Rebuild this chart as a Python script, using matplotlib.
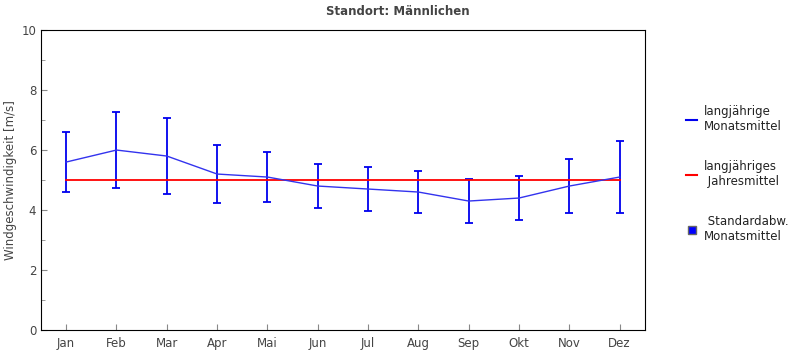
import numpy as np
import matplotlib.pyplot as plt
from matplotlib.lines import Line2D

months = ['Jan', 'Feb', 'Mar', 'Apr', 'Mai', 'Jun', 'Jul', 'Aug', 'Sep', 'Okt', 'Nov', 'Dez']
monatsmittel = [5.6, 6.0, 5.8, 5.2, 5.1, 4.8, 4.7, 4.6, 4.3, 4.4, 4.8, 5.1]
standardabw = [1.0, 1.27, 1.27, 0.97, 0.83, 0.73, 0.73, 0.7, 0.73, 0.73, 0.9, 1.2]
jahresmittel = 5.0

grey = '#444444'
plt.rcParams['font.family'] = 'DejaVu Sans'
plt.rcParams['font.size'] = 8.5

fig = plt.figure(figsize=(7.95, 3.5), dpi=100)
ax = fig.add_axes([0.0516, 0.0571, 0.7595, 0.857])

x = np.arange(len(months))
ax.errorbar(x, monatsmittel, yerr=standardabw, fmt='none', ecolor='#0000ee',
            elinewidth=1.3, capsize=3, capthick=1.3, zorder=2)
ax.plot(x, monatsmittel, color='#3333ee', lw=1.0, zorder=3)
ax.plot([x[0], x[-1]], [jahresmittel, jahresmittel], color='red', lw=1.3, zorder=2)

ax.set_xlim(-0.5, 11.5)
ax.set_ylim(0, 10)
ax.set_xticks(x)
ax.set_xticklabels(months)
ax.set_yticks(range(0, 11, 2))
ax.set_yticks(range(1, 10, 2), minor=True)
ax.tick_params(axis='both', which='both', direction='in', colors='#888888',
               labelcolor=grey, labelsize=8.5)
ax.tick_params(axis='x', length=4, pad=5)
ax.tick_params(axis='y', which='major', length=4)
ax.tick_params(axis='y', which='minor', length=3)
ax.set_ylabel('Windgeschwindigkeit [m/s]', color=grey, labelpad=3)

fig.suptitle('Standort: Männlichen', x=0.5, y=0.985, fontsize=8.5,
             fontweight='bold', color=grey)

handles = [
    Line2D([], [], color='#0000ee', lw=1.5),
    Line2D([], [], color='red', lw=1.5),
    Line2D([], [], color='none', marker='s', markersize=6,
           markerfacecolor='#0000ff', markeredgecolor='#666666'),
]
labels = ['langjährige\nMonatsmittel', 'langjähriges\n Jahresmittel',
          ' Standardabw.\nMonatsmittel']
leg = fig.legend(handles, labels, loc='upper left', bbox_to_anchor=(0.85, 0.73),
                 frameon=False, handlelength=0.9, handletextpad=0.6,
                 labelspacing=2.3, fontsize=8.5)
for t in leg.get_texts():
    t.set_color('#222222')

fig.savefig('out.png', dpi=100)
